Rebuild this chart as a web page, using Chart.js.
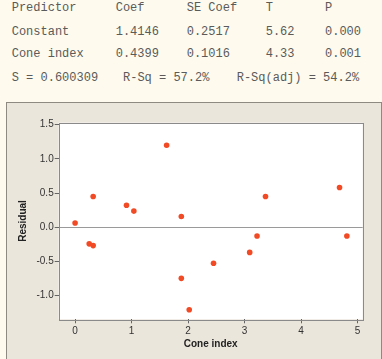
<!DOCTYPE html>
<html>
<head>
<meta charset="utf-8">
<script src="https://cdn.jsdelivr.net/npm/chart.js@4"></script>
<style>
  html, body { margin: 0; padding: 0; }
  body { width: 382px; height: 359px; background: #fefbee; position: relative; overflow: hidden; }
  .cell { position: absolute; font: 12px "Liberation Mono", monospace; color: #5a5a5a; white-space: pre; line-height: 14px; }
  #panel { position: absolute; left: 6px; top: 102px; width: 374px; height: 300px; background: #ebe6dc; border: 1px solid #8e8a82; }
  #resChart { position: absolute; left: 0; top: 0; }
</style>
</head>
<body>
<div id="table"></div>
<div id="panel"></div>
<canvas id="resChart" width="382" height="359"></canvas>
<script>
// regression output table
const tableRows = [
  ["Predictor", "Coef", "SE Coef", "T", "P"],
  ["Constant", "1.4146", "0.2517", "5.62", "0.000"],
  ["Cone index", "0.4399", "0.1016", "4.33", "0.001"]
];
const summaryLine = ["S = 0.600309", "R-Sq = 57.2%", "R-Sq(adj) = 54.2%"];

// residuals vs cone index
const coneIndex = [0.00, 0.25, 0.32, 0.32, 0.91, 1.04, 1.62, 1.88, 1.88, 2.02, 2.45, 3.09, 3.22, 3.37, 4.68, 4.81];
const residual  = [0.06, -0.245, -0.27, 0.45, 0.32, 0.235, 1.20, 0.155, -0.75, -1.21, -0.53, -0.37, -0.13, 0.45, 0.58, -0.13];
const xTicks = [0, 1, 2, 3, 4, 5];
const yTicks = [-1.0, -0.5, 0.0, 0.5, 1.0, 1.5];

const colX = [11.7, 115.7, 186.7, 265.7, 325];
const rowTop = [1, 24.5, 47, 70.5];
const tbl = document.getElementById("table");
function addCell(text, x, y) {
  const d = document.createElement("div");
  d.className = "cell";
  d.style.left = x + "px";
  d.style.top = y + "px";
  d.textContent = text;
  tbl.appendChild(d);
}
tableRows.forEach((row, r) => {
  row.forEach((t, c) => addCell(t, colX[c], rowTop[r]));
});
[11.7, 123, 236.7].forEach((x, i) => addCell(summaryLine[i], x, rowTop[3]));

const points = coneIndex.map((x, i) => ({ x: x, y: residual[i] }));

const plotFrame = {
  id: "plotFrame",
  beforeDraw(chart) {
    const { ctx, chartArea: a } = chart;
    ctx.save();
    ctx.fillStyle = "#ffffff";
    ctx.fillRect(a.left, a.top, a.right - a.left, a.bottom - a.top);
    ctx.restore();
  },
  afterDraw(chart) {
    const { ctx, chartArea: a } = chart;
    ctx.save();
    ctx.strokeStyle = "#8a8a8a";
    ctx.lineWidth = 1;
    ctx.strokeRect(Math.round(a.left) + 0.5, Math.round(a.top) + 0.5,
      Math.round(a.right - a.left), Math.round(a.bottom - a.top));
    ctx.restore();
  }
};

const ctx = document.getElementById("resChart");
new Chart(ctx, {
  type: "scatter",
  data: {
    datasets: [{
      label: "Residual",
      data: points,
      backgroundColor: "#f24a24",
      borderColor: "#f24a24",
      pointRadius: 2.8,
      pointHoverRadius: 2.8,
      borderWidth: 0
    }]
  },
  options: {
    responsive: false,
    animation: false,
    devicePixelRatio: 1,
    layout: { padding: { left: 0, right: 19.3, top: 122.7, bottom: 0 } },
    plugins: { legend: { display: false }, tooltip: { enabled: false } },
    scales: {
      x: {
        type: "linear",
        min: -0.29,
        max: 5.09,
        afterBuildTicks: (s) => { s.ticks = xTicks.map(v => ({ value: v })); },
        afterFit: (s) => { s.height = 39.7; },
        border: { display: false },
        grid: { drawOnChartArea: false, tickLength: 4, tickColor: "#666" },
        ticks: { color: "#333", padding: 2, font: { family: "Liberation Sans", size: 10 } },
        title: {
          display: true,
          text: "Cone index",
          color: "#222",
          padding: { top: 0, bottom: 8.7 },
          font: { family: "Liberation Sans", size: 10, weight: "bold" }
        }
      },
      y: {
        type: "linear",
        min: -1.35,
        max: 1.53,
        afterBuildTicks: (s) => { s.ticks = yTicks.map(v => ({ value: v })); },
        afterFit: (s) => { s.width = 58.7; },
        border: { display: false },
        grid: {
          tickLength: 4,
          tickColor: "#666",
          color: (c) => (c.tick && c.tick.value === 0 ? "#9a9a9a" : "rgba(0,0,0,0)"),
          lineWidth: 1
        },
        ticks: {
          color: "#333",
          padding: 1,
          font: { family: "Liberation Sans", size: 10 },
          callback: (v) => Number(v).toFixed(1)
        },
        title: {
          display: true,
          text: "Residual",
          color: "#222",
          padding: { top: 17, bottom: 0 },
          font: { family: "Liberation Sans", size: 10, weight: "bold" }
        }
      }
    }
  },
  plugins: [plotFrame]
});
</script>
</body>
</html>
